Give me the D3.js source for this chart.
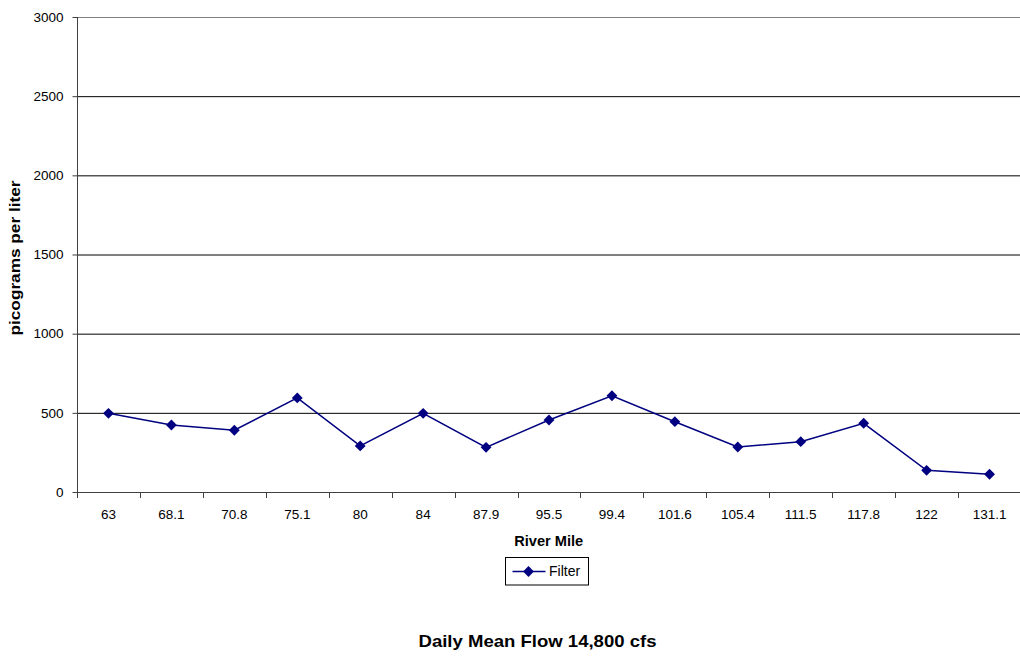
<!DOCTYPE html>
<html><head><meta charset="utf-8">
<script src="https://cdn.jsdelivr.net/npm/d3@7"></script>
<style>body{margin:0;background:#fff;}svg{display:block;font-family:"Liberation Sans",Arial,sans-serif;}</style>
</head><body>
<svg id="c" width="1020" height="656"></svg>
<script>
const categories = ["63","68.1","70.8","75.1","80","84","87.9","95.5","99.4","101.6","105.4","111.5","117.8","122","131.1"];
const filterValues = [497,423,390,594,291,497,282,455,608,444,284,318,434,137,112];
const yTicks = [0,500,1000,1500,2000,2500,3000];

const svg = d3.select("#c");
const L = 77, R = 1021, T = 17, B = 492;
const x = d3.scaleBand().domain(categories).range([L, R]);
const y = d3.scaleLinear().domain([0,3000]).range([B, T]);
const FF = "Liberation Sans, Arial, sans-serif";

// gridlines
svg.append("g").selectAll("line").data(yTicks.filter(d=>d>0)).join("line")
  .attr("x1", L).attr("x2", R).attr("y1", d=>y(d)+0.5).attr("y2", d=>y(d)+0.5)
  .attr("stroke", d=> d===3000 ? "#808080" : "#000").attr("stroke-width",1);

// y axis
const ya = svg.append("g").attr("transform", `translate(${L+0.5},0)`)
  .call(d3.axisLeft(y).tickValues(yTicks).tickSize(5).tickPadding(9).tickFormat(d3.format("d")));
ya.select(".domain").attr("stroke","#404040").attr("d", `M0,${T}V${B}`);
ya.selectAll(".tick line").attr("stroke","#404040");
ya.selectAll("text").attr("font-size",13.5).attr("fill","#000").attr("font-family",FF);

// x axis
const xa = svg.append("g").attr("transform", `translate(0,${B+0.5})`)
  .call(d3.axisBottom(x).tickSize(0).tickPadding(17));
xa.select(".domain").attr("stroke","#404040").attr("d", `M${L},0H${R}`);
xa.selectAll("text").attr("font-size",13.5).attr("fill","#000").attr("font-family",FF);
svg.append("g").selectAll("line").data(d3.range(categories.length+1)).join("line")
  .attr("x1", i=> Math.round(L + i*x.step())+0.5).attr("x2", i=> Math.round(L + i*x.step())+0.5)
  .attr("y1", B).attr("y2", B+6).attr("stroke","#404040");

// line
const cx = d => x(d) + x.bandwidth()/2;
const line = d3.line().x((d,i)=>cx(categories[i])).y(d=>y(d));
svg.append("path").datum(filterValues).attr("d", line).attr("fill","none").attr("stroke","#000080").attr("stroke-width",1.5);
const diamond = d3.symbol().type(d3.symbolDiamond2).size(75);
svg.append("g").selectAll("path").data(filterValues).join("path")
  .attr("transform",(d,i)=>`translate(${cx(categories[i])},${y(d)})`)
  .attr("d", diamond).attr("fill","#000080");

// axis titles
svg.append("text").attr("x", 548.7).attr("y", 546).attr("text-anchor","middle")
  .attr("font-size",14).attr("font-weight","bold")
  .attr("textLength",69).attr("lengthAdjust","spacingAndGlyphs").text("River Mile");
svg.append("text").attr("transform","translate(20,258) rotate(-90)").attr("text-anchor","middle")
  .attr("font-size",14).attr("font-weight","bold")
  .attr("textLength",155).attr("lengthAdjust","spacingAndGlyphs").text("picograms per liter");

// legend
const lg = svg.append("g").attr("transform","translate(505.5,557.5)");
lg.append("rect").attr("width",83).attr("height",27.5).attr("fill","#fff").attr("stroke","#000");
lg.append("line").attr("x1",7).attr("x2",40).attr("y1",14).attr("y2",14).attr("stroke","#000080").attr("stroke-width",1.5);
lg.append("path").attr("transform","translate(23,14)").attr("d",diamond).attr("fill","#000080");
lg.append("text").attr("x",43.5).attr("y",18.5).attr("font-size",14).text("Filter");

// bottom title
svg.append("text").attr("x",537.5).attr("y",647).attr("text-anchor","middle")
  .attr("font-size",17).attr("font-weight","bold")
  .attr("textLength",238).attr("lengthAdjust","spacingAndGlyphs").text("Daily Mean Flow 14,800 cfs");
</script>
</body></html>
